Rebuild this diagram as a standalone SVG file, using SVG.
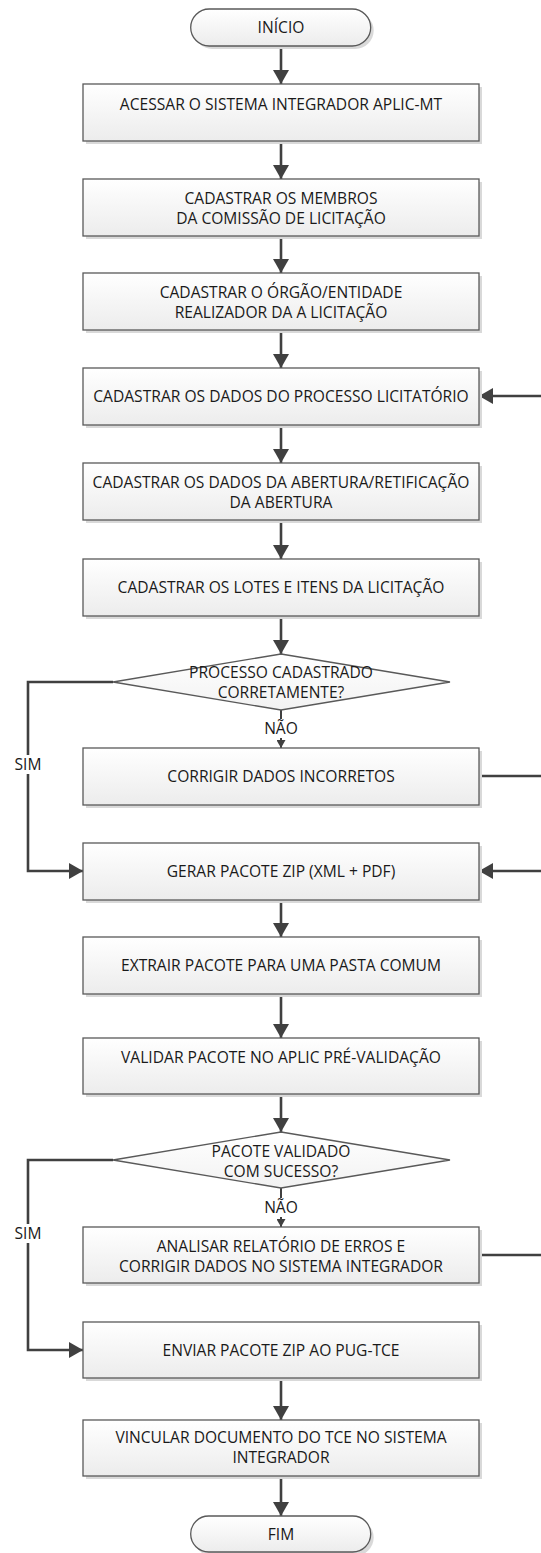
<svg xmlns="http://www.w3.org/2000/svg" width="541" height="1553" viewBox="0 0 541 1553">
<style>
.box{fill:url(#g);stroke:#595959;stroke-width:1.3}
.dia{fill:url(#g2);stroke:#595959;stroke-width:1.3}
.sh{fill:#d9d9d9}
.t{font-family:"Open Sans","Noto Sans",sans-serif;font-size:15.6px;fill:#1a1a1a;text-anchor:middle}
.c{fill:none;stroke:#404040;stroke-width:2.6}
.cs{fill:none;stroke:#404040;stroke-width:2}
.bg{fill:#ffffff}
</style>
<defs>
<linearGradient id="g" x1="0" y1="0" x2="0" y2="1">
<stop offset="0" stop-color="#ffffff"/>
<stop offset="1" stop-color="#ececec"/>
</linearGradient>
<linearGradient id="g2" x1="0" y1="0" x2="0" y2="1">
<stop offset="0" stop-color="#ffffff"/>
<stop offset="1" stop-color="#f2f2f2"/>
</linearGradient>
<marker id="a" markerUnits="userSpaceOnUse" markerWidth="14" markerHeight="16" refX="14" refY="8" orient="auto">
<path d="M0,0 L14,8 L0,16 z" fill="#404040"/>
</marker>
<marker id="s" markerUnits="userSpaceOnUse" markerWidth="8" markerHeight="9" refX="8" refY="4.5" orient="auto">
<path d="M0,0 L8,4.5 L0,9 z" fill="#404040"/>
</marker>
</defs>
<rect width="541" height="1553" fill="#ffffff"/>

<g id="connectors">
<path class="c" d="M281,46 V84" marker-end="url(#a)"/>
<path class="c" d="M281,141 V179" marker-end="url(#a)"/>
<path class="c" d="M281,236 V273" marker-end="url(#a)"/>
<path class="c" d="M281,330 V368" marker-end="url(#a)"/>
<path class="c" d="M281,425 V463" marker-end="url(#a)"/>
<path class="c" d="M281,520 V559" marker-end="url(#a)"/>
<path class="c" d="M281,616 V654" marker-end="url(#a)"/>
<path class="cs" d="M281,710 V748" marker-end="url(#s)"/>
<path class="c" d="M113,682 H28 V871 H83" marker-end="url(#a)"/>
<path class="c" d="M479,776 H543"/>
<path class="c" d="M543,396 H479" marker-end="url(#a)"/>
<path class="c" d="M543,871 H479" marker-end="url(#a)"/>
<path class="c" d="M281,900 V937" marker-end="url(#a)"/>
<path class="c" d="M281,994 V1038" marker-end="url(#a)"/>
<path class="c" d="M281,1094 V1132" marker-end="url(#a)"/>
<path class="cs" d="M281,1188 V1227" marker-end="url(#s)"/>
<path class="c" d="M113,1160 H28 V1350 H83" marker-end="url(#a)"/>
<path class="c" d="M479,1255 H543"/>
<path class="c" d="M281,1378 V1420" marker-end="url(#a)"/>
<path class="c" d="M281,1476 V1516" marker-end="url(#a)"/>
<rect class="bg" x="262" y="719" width="38" height="19"/>
<text class="t" x="281" y="734">NÃO</text>
<rect class="bg" x="9" y="755" width="38" height="19"/>
<text class="t" x="28" y="770">SIM</text>
<rect class="bg" x="262" y="1198" width="38" height="19"/>
<text class="t" x="281" y="1213">NÃO</text>
<rect class="bg" x="9" y="1224" width="38" height="19"/>
<text class="t" x="28" y="1239">SIM</text>
</g>

<g id="inicio">
<rect class="sh" x="193.7" y="12" width="180" height="37" rx="18.5"/>
<rect class="box" x="190.7" y="9" width="180" height="37" rx="18.5"/>
<text class="t" x="281" y="33">INÍCIO</text>
</g>

<g id="n1">
<rect class="sh" x="86" y="87" width="396" height="57"/>
<rect class="box" x="83" y="84" width="396" height="57"/>
<text class="t" x="281" y="110">ACESSAR O SISTEMA INTEGRADOR APLIC-MT</text>
</g>

<g id="n2">
<rect class="sh" x="86" y="182" width="396" height="57"/>
<rect class="box" x="83" y="179" width="396" height="57"/>
<text class="t" x="281" y="203.5">CADASTRAR OS MEMBROS</text>
<text class="t" x="281" y="223.5">DA COMISSÃO DE LICITAÇÃO</text>
</g>

<g id="n3">
<rect class="sh" x="86" y="276" width="396" height="57"/>
<rect class="box" x="83" y="273" width="396" height="57"/>
<text class="t" x="281" y="298">CADASTRAR O ÓRGÃO/ENTIDADE</text>
<text class="t" x="281" y="318">REALIZADOR DA A LICITAÇÃO</text>
</g>

<g id="n4">
<rect class="sh" x="86" y="371" width="396" height="57"/>
<rect class="box" x="83" y="368" width="396" height="57"/>
<text class="t" x="281" y="402">CADASTRAR OS DADOS DO PROCESSO LICITATÓRIO</text>
</g>

<g id="n5">
<rect class="sh" x="86" y="466" width="396" height="57"/>
<rect class="box" x="83" y="463" width="396" height="57"/>
<text class="t" x="281" y="487.5">CADASTRAR OS DADOS DA ABERTURA/RETIFICAÇÃO</text>
<text class="t" x="281" y="507.5">DA ABERTURA</text>
</g>

<g id="n6">
<rect class="sh" x="86" y="562" width="396" height="57"/>
<rect class="box" x="83" y="559" width="396" height="57"/>
<text class="t" x="281" y="593">CADASTRAR OS LOTES E ITENS DA LICITAÇÃO</text>
</g>

<g id="d1">
<polygon class="dia" points="281,654 450,682 281,710 113,682"/>
<text class="t" x="281" y="678">PROCESSO CADASTRADO</text>
<text class="t" x="281" y="698">CORRETAMENTE?</text>
</g>

<g id="n7">
<rect class="sh" x="86" y="751" width="396" height="57"/>
<rect class="box" x="83" y="748" width="396" height="57"/>
<text class="t" x="281" y="782">CORRIGIR DADOS INCORRETOS</text>
</g>

<g id="n8">
<rect class="sh" x="86" y="846" width="396" height="57"/>
<rect class="box" x="83" y="843" width="396" height="57"/>
<text class="t" x="281" y="876.5">GERAR PACOTE ZIP (XML + PDF)</text>
</g>

<g id="n9">
<rect class="sh" x="86" y="940" width="396" height="57"/>
<rect class="box" x="83" y="937" width="396" height="57"/>
<text class="t" x="281" y="971">EXTRAIR PACOTE PARA UMA PASTA COMUM</text>
</g>

<g id="n10">
<rect class="sh" x="86" y="1041" width="396" height="56"/>
<rect class="box" x="83" y="1038" width="396" height="56"/>
<text class="t" x="281" y="1063">VALIDAR PACOTE NO APLIC PRÉ-VALIDAÇÃO</text>
</g>

<g id="d2">
<polygon class="dia" points="281,1132 450,1160 281,1188 113,1160"/>
<text class="t" x="281" y="1157">PACOTE VALIDADO</text>
<text class="t" x="281" y="1177">COM SUCESSO?</text>
</g>

<g id="n11">
<rect class="sh" x="86" y="1230" width="396" height="56"/>
<rect class="box" x="83" y="1227" width="396" height="56"/>
<text class="t" x="281" y="1251.5">ANALISAR RELATÓRIO DE ERROS E</text>
<text class="t" x="281" y="1271.5">CORRIGIR DADOS NO SISTEMA INTEGRADOR</text>
</g>

<g id="n12">
<rect class="sh" x="86" y="1325" width="396" height="56"/>
<rect class="box" x="83" y="1322" width="396" height="56"/>
<text class="t" x="281" y="1355.5">ENVIAR PACOTE ZIP AO PUG-TCE</text>
</g>

<g id="n13">
<rect class="sh" x="86" y="1423" width="396" height="56"/>
<rect class="box" x="83" y="1420" width="396" height="56"/>
<text class="t" x="281" y="1442.5">VINCULAR DOCUMENTO DO TCE NO SISTEMA</text>
<text class="t" x="281" y="1462.5">INTEGRADOR</text>
</g>

<g id="fim">
<rect class="sh" x="193.7" y="1519" width="180" height="37" rx="18.5"/>
<rect class="box" x="190.7" y="1516" width="180" height="36" rx="18"/>
<text class="t" x="281" y="1540">FIM</text>
</g>
</svg>
